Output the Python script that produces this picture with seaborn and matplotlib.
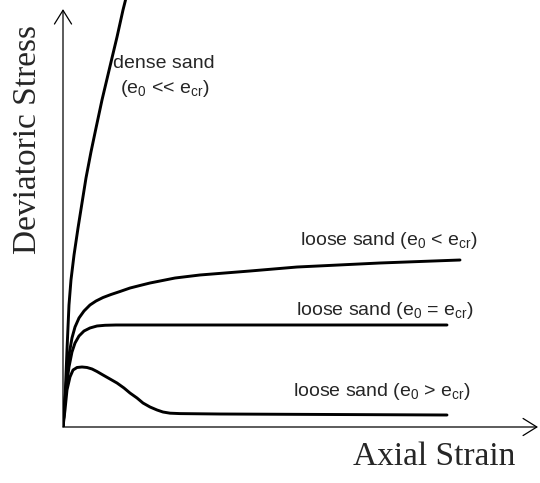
import matplotlib
matplotlib.use("Agg")
import matplotlib.pyplot as plt
import pandas as pd
import seaborn as sns

# Stress-strain curves (arbitrary units: strain 0-100, stress 0-100)
dense_strain = [0, 0.42, 0.84, 1.26, 1.68, 2.32, 3.16, 4.0, 4.84, 5.89, 6.95,
                8.21, 10.11, 11.37, 12.63, 13.16]
dense_stress = [0, 6.51, 18.55, 29.4, 35.42, 41.45, 47.95, 53.98, 60.0, 66.27,
                72.05, 78.8, 87.95, 93.98, 100.48, 102.89]

loose_lt_strain = [0, 0.32, 0.74, 1.26, 1.89, 2.53, 3.37, 4.42, 5.68, 6.95, 8.42,
                   10.11, 12.0, 14.11, 16.21, 18.32, 23.58, 28.84, 39.37, 49.26,
                   66.74, 83.58]
loose_lt_stress = [0, 5.3, 11.33, 17.35, 21.45, 24.1, 26.27, 27.95, 29.4, 30.36,
                   31.2, 31.93, 32.65, 33.49, 34.1, 34.7, 35.9, 36.63, 37.59,
                   38.55, 39.52, 40.24]

loose_eq_strain = [0, 0.32, 0.74, 1.26, 1.89, 2.53, 3.37, 4.42, 5.68, 7.16, 8.84,
                   11.16, 80.84]
loose_eq_stress = [0, 5.3, 10.12, 14.46, 18.07, 20.24, 21.93, 23.13, 23.86, 24.34,
                   24.51, 24.58, 24.58]

loose_gt_strain = [0, 0.42, 0.84, 1.47, 2.11, 2.95, 4.0, 5.05, 6.11, 7.16, 8.42,
                   9.89, 11.37, 12.84, 14.1, 15.58, 16.84, 18.32, 19.79, 21.05,
                   22.53, 24.63, 33.05, 80.84]
loose_gt_stress = [0, 4.1, 8.92, 12.05, 13.73, 14.34, 14.46, 14.34, 13.98, 13.37,
                   12.53, 11.57, 10.6, 9.4, 8.19, 6.99, 5.78, 4.82, 4.1, 3.61,
                   3.33, 3.23, 3.13, 2.89]

curve_names = ["dense", "loose_lt", "loose_eq", "loose_gt"]
curve_labels = [
    "dense sand",
    "(e$_0$ << e$_{cr}$)",
    "loose sand (e$_0$ < e$_{cr}$)",
    "loose sand (e$_0$ = e$_{cr}$)",
    "loose sand (e$_0$ > e$_{cr}$)",
]
label_pos = [(10.5, 87.7), (12.0, 81.6), (49.9, 45.0), (49.1, 28.0), (48.4, 8.6)]

x_label = "Axial Strain"
y_label = "Deviatoric Stress"

sns.set_style("white")
plt.rcParams["font.family"] = ["Liberation Sans", "DejaVu Sans"]
plt.rcParams["mathtext.fontset"] = "custom"
plt.rcParams["mathtext.rm"] = "Liberation Sans"
plt.rcParams["mathtext.it"] = "Liberation Sans"
plt.rcParams["mathtext.default"] = "regular"

frames = []
for name, xs, ys in zip(
    curve_names,
    [dense_strain, loose_lt_strain, loose_eq_strain, loose_gt_strain],
    [dense_stress, loose_lt_stress, loose_eq_stress, loose_gt_stress],
):
    frames.append(pd.DataFrame({"strain": xs, "stress": ys, "curve": name}))
df = pd.concat(frames, ignore_index=True)

fig = plt.figure(figsize=(5.4, 4.83), dpi=100)
ax = fig.add_axes([63 / 540, 56 / 483, 477 / 540, 427 / 483])

sns.lineplot(
    data=df, x="strain", y="stress", units="curve", estimator=None,
    sort=False, color="black", linewidth=2.1, ax=ax, legend=False,
)
for line in ax.lines:
    line.set_solid_joinstyle("round")
    line.set_solid_capstyle("round")

ax.set_xlim(0, 477 / 4.75)
ax.set_ylim(0, 427 / 4.15)
for s in ax.spines.values():
    s.set_visible(False)
ax.set_xticks([])
ax.set_yticks([])
ax.set_xlabel("")
ax.set_ylabel("")

# Axis arrows
arrow_kw = dict(arrowstyle="->,head_length=0.45,head_width=0.28", lw=0.9,
                color="black", shrinkA=0, shrinkB=0, mutation_scale=22)
ax.annotate("", xy=(100, 0), xytext=(0, 0), arrowprops=arrow_kw, annotation_clip=False)
ax.annotate("", xy=(0, 100.7), xytext=(0, 0), arrowprops=arrow_kw, annotation_clip=False)

for text, (x, y) in zip(curve_labels, label_pos):
    ax.text(x, y, text, fontsize=14, ha="left", va="center")

fig.text(434 / 540, 1 - 457 / 483, x_label, family="Liberation Serif",
         fontsize=24, ha="center", va="center")
fig.text(28 / 540, 1 - 139 / 483, y_label, family="Liberation Serif",
         fontsize=24, ha="center", va="center", rotation=90)

fig.savefig("out.png", dpi=100, facecolor="white")
